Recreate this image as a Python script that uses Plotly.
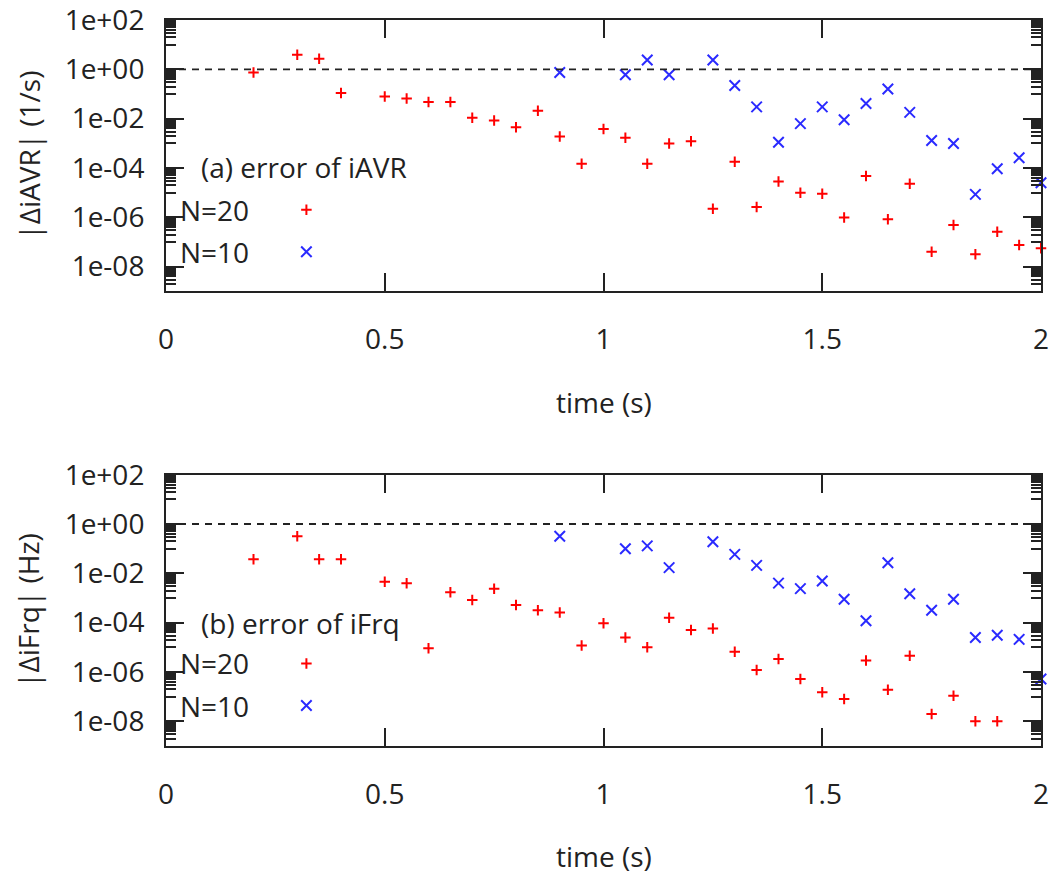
import plotly.graph_objects as go
from plotly.subplots import make_subplots

# ---------------- data ----------------
t_avr_n20 = [0.2, 0.3, 0.35, 0.4, 0.5, 0.55, 0.6, 0.65, 0.7, 0.75, 0.8, 0.85, 0.9, 0.95,
             1.0, 1.05, 1.1, 1.15, 1.2, 1.25, 1.3, 1.35, 1.4, 1.45, 1.5, 1.55, 1.6, 1.65,
             1.7, 1.75, 1.8, 1.85, 1.9, 1.95, 2.0]
err_avr_n20 = [7.4e-1, 3.9e0, 2.7e0, 1.1e-1, 7.9e-2, 6.5e-2, 4.7e-2, 4.7e-2, 1.1e-2, 8.5e-3,
               4.5e-3, 2.1e-2, 1.9e-3, 1.5e-4, 3.8e-3, 1.7e-3, 1.5e-4, 9.8e-4, 1.2e-3, 2.2e-6,
               1.8e-4, 2.6e-6, 2.8e-5, 1.0e-5, 9.1e-6, 9.8e-7, 4.7e-5, 8.3e-7, 2.3e-5, 4.0e-8,
               4.9e-7, 3.2e-8, 2.6e-7, 7.6e-8, 5.6e-8]

t_avr_n10 = [0.9, 1.05, 1.1, 1.15, 1.25, 1.3, 1.35, 1.4, 1.45, 1.5, 1.55, 1.6, 1.65, 1.7,
             1.75, 1.8, 1.85, 1.9, 1.95, 2.0]
err_avr_n10 = [7.4e-1, 6.0e-1, 2.4e0, 6.0e-1, 2.4e0, 2.2e-1, 3.0e-2, 1.1e-3, 6.3e-3, 3.0e-2,
               9.1e-3, 4.1e-2, 1.6e-1, 1.8e-2, 1.3e-3, 9.8e-4, 8.5e-6, 9.3e-5, 2.6e-4, 2.5e-5]

t_frq_n20 = [0.2, 0.3, 0.35, 0.4, 0.5, 0.55, 0.6, 0.65, 0.7, 0.75, 0.8, 0.85, 0.9, 0.95,
             1.0, 1.05, 1.1, 1.15, 1.2, 1.25, 1.3, 1.35, 1.4, 1.45, 1.5, 1.55, 1.6, 1.65,
             1.7, 1.75, 1.8, 1.85, 1.9]
err_frq_n20 = [3.7e-2, 3.2e-1, 3.7e-2, 3.7e-2, 4.6e-3, 4.0e-3, 9.1e-6, 1.7e-3, 8.3e-4, 2.4e-3,
               5.2e-4, 3.2e-4, 2.6e-4, 1.2e-5, 9.5e-5, 2.5e-5, 1.0e-5, 1.6e-4, 5.0e-5, 5.8e-5,
               6.6e-6, 1.2e-6, 3.4e-6, 5.2e-7, 1.5e-7, 8.1e-8, 2.9e-6, 1.9e-7, 4.6e-6, 2.0e-8,
               1.1e-7, 1.0e-8, 1.0e-8]

t_frq_n10 = [0.9, 1.05, 1.1, 1.15, 1.25, 1.3, 1.35, 1.4, 1.45, 1.5, 1.55, 1.6, 1.65, 1.7,
             1.75, 1.8, 1.85, 1.9, 1.95, 2.0]
err_frq_n10 = [3.2e-1, 1.0e-1, 1.3e-1, 1.7e-2, 1.9e-1, 5.9e-2, 2.1e-2, 4.0e-3, 2.4e-3, 4.9e-3,
               8.9e-4, 1.2e-4, 2.7e-2, 1.5e-3, 3.2e-4, 8.9e-4, 2.5e-5, 3.1e-5, 2.1e-5, 5.2e-7]

x_tickvals = [0, 0.5, 1, 1.5, 2]
x_ticktext = ["0", "0.5", "1", "1.5", "2"]
y_tickvals = [1e-8, 1e-6, 1e-4, 1e-2, 1e0, 1e2]
y_ticktext = ["1e-08", "1e-06", "1e-04", "1e-02", "1e+00", "1e+02"]
series_names = ["N=20", "N=10"]
panel_labels = ["(a) error of iAVR", "(b) error of iFrq"]
y_titles = ["|ΔiAVR| (1/s)", "|ΔiFrq| (Hz)"]
x_title = "time (s)"

# ---------------- style ----------------
FONT = "Open Sans"
TXT = "#222222"
FS = 28
RED = "#ff0000"
BLUE = "#2a2aff"
AXC = "#222222"

# minor ticks: k*10^(n-1) below each labelled decade 10^n
y_minor = []
for v in y_tickvals:
    for k in range(1, 10):
        y_minor.append(k * v / 10)

fig = make_subplots(rows=2, cols=1, vertical_spacing=0.0)

def add_panel(row, tx20, y20, tx10, y10, legend_id):
    fig.add_trace(go.Scatter(
        x=tx20, y=y20, mode="markers", name=series_names[0], legend=legend_id,
        marker=dict(symbol="cross-thin", size=7.5, color=RED,
                    line=dict(color=RED, width=2)),
        cliponaxis=False), row=row, col=1)
    fig.add_trace(go.Scatter(
        x=tx10, y=y10, mode="markers", name=series_names[1], legend=legend_id,
        marker=dict(symbol="x-thin", size=10.5, color=BLUE,
                    line=dict(color=BLUE, width=2)),
        cliponaxis=False), row=row, col=1)

add_panel(1, t_avr_n20, err_avr_n20, t_avr_n10, err_avr_n10, "legend")
add_panel(2, t_frq_n20, err_frq_n20, t_frq_n10, err_frq_n10, "legend2")

dom_top = [0.6263, 1.0]
dom_bot = [0.0, 0.3737]

xaxis_common = dict(
    range=[0, 2], tickmode="array", tickvals=x_tickvals, ticktext=x_ticktext,
    ticks="inside", ticklen=18, tickwidth=1.5, tickcolor=AXC,
    showline=True, linecolor=AXC, linewidth=2, mirror="ticks",
    showgrid=False, zeroline=False,
    tickfont=dict(family=FONT, size=FS, color=TXT),
    ticklabelstandoff=22, ticklabeloverflow="allow",
)
yaxis_common = dict(
    type="log", range=[-9, 2], tickmode="array", tickvals=y_tickvals, ticktext=y_ticktext,
    ticks="inside", ticklen=18, tickwidth=1.5, tickcolor=AXC,
    minor=dict(tickmode="array", tickvals=y_minor, ticks="inside", ticklen=10,
               tickwidth=1.5, tickcolor=AXC, showgrid=False),
    showline=True, linecolor=AXC, linewidth=2, mirror="ticks",
    showgrid=False, zeroline=False,
    tickfont=dict(family=FONT, size=FS, color=TXT),
    ticklabelstandoff=14, ticklabeloverflow="allow",
)

fig.update_xaxes(**xaxis_common)
fig.update_yaxes(**yaxis_common)
fig.update_yaxes(domain=dom_top, row=1, col=1)
fig.update_yaxes(domain=dom_bot, row=2, col=1)

# dashed reference line at 1
for yref, xref in (("y", "x"), ("y2", "x2")):
    fig.add_shape(type="line", xref=f"{xref} domain", yref=yref, x0=0, x1=1, y0=1, y1=1,
                  line=dict(color=AXC, width=1.8, dash="7px,6px"), layer="above")

annots = []
# axis titles
for yc in (0.4742, -0.152):
    annots.append(dict(text=x_title, xref="paper", yref="paper", x=0.5, y=yc,
                       xanchor="center", yanchor="middle", showarrow=False,
                       font=dict(family=FONT, size=FS, color=TXT)))
for ttl, yc in zip(y_titles, (0.814, 0.187)):
    annots.append(dict(text=ttl, xref="paper", yref="paper", x=-0.157, y=yc,
                       xanchor="center", yanchor="middle", showarrow=False, textangle=-90,
                       font=dict(family=FONT, size=FS, color=TXT)))
# panel labels
for lab, yc in zip(panel_labels, (0.798, 0.1696)):
    annots.append(dict(text=lab, xref="paper", yref="paper", x=0.038, y=yc,
                       xanchor="left", yanchor="middle", showarrow=False,
                       font=dict(family=FONT, size=FS, color=TXT)))
# legend texts
for yc, nm in zip((0.7385, 0.6807, 0.1145, 0.0548), series_names * 2):
    annots.append(dict(text=nm, xref="paper", yref="paper", x=0.0135, y=yc,
                       xanchor="left", yanchor="middle", showarrow=False,
                       font=dict(family=FONT, size=FS, color=TXT)))

legend_common = dict(xanchor="left", yanchor="middle", bgcolor="rgba(0,0,0,0)",
                     borderwidth=0, font=dict(family=FONT, size=30, color="rgba(0,0,0,0)"),
                     itemsizing="trace", tracegroupgap=0)

fig.update_layout(
    width=1057, height=875,
    margin=dict(l=165.5, r=16, t=20, b=128.5, autoexpand=False),
    paper_bgcolor="white", plot_bgcolor="white",
    showlegend=True,
    legend=dict(x=0.1376, y=0.7096, **legend_common),
    legend2=dict(x=0.1376, y=0.0847, **legend_common),
    annotations=annots,
    font=dict(family=FONT, size=FS, color=TXT),
)

fig.write_html("out.html")
